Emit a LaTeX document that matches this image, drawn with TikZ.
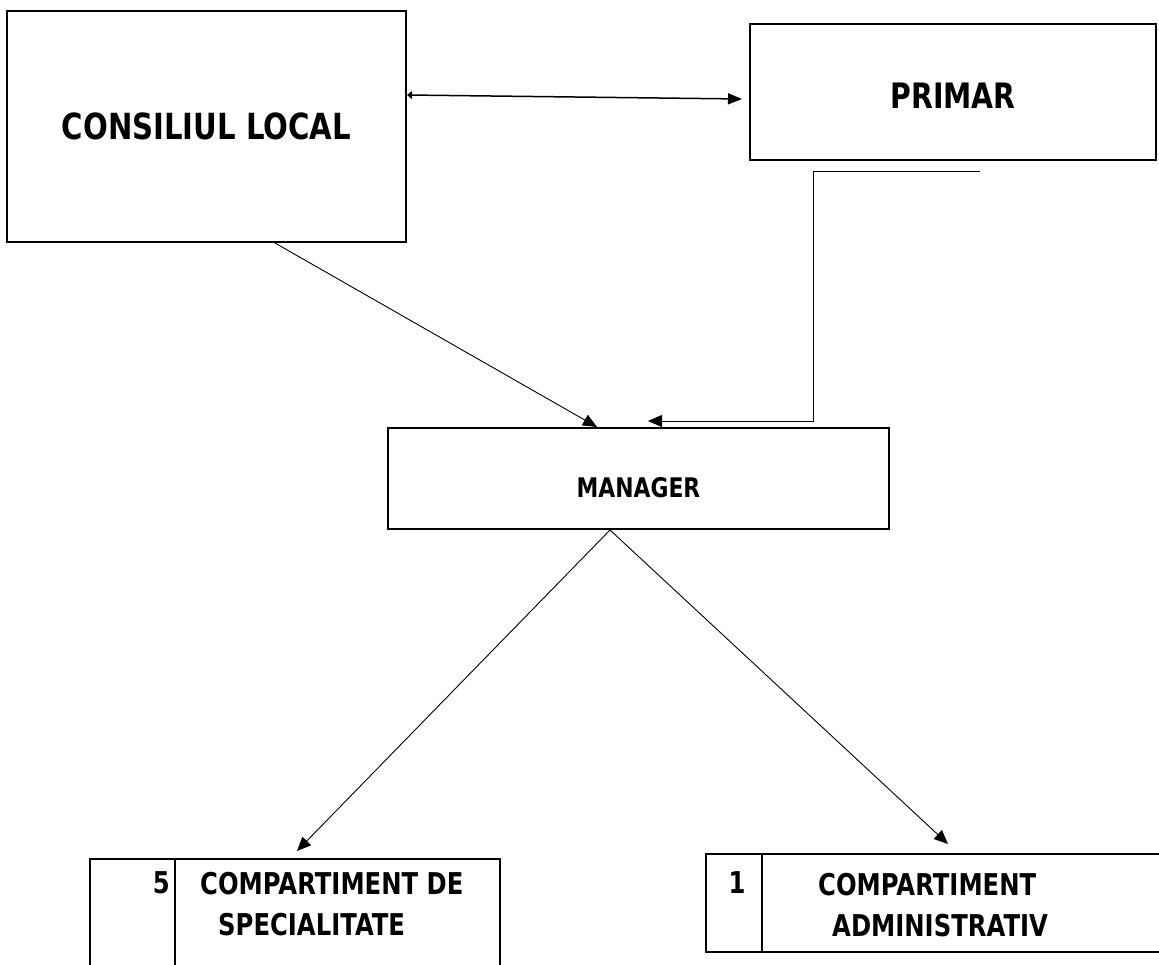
\documentclass[tikz,border=0pt]{standalone}
\usepackage{fontspec}
\setmainfont{DejaVu Sans}[FakeStretch=0.81]
\usetikzlibrary{arrows.meta,calc,positioning}

\tikzset{
  box/.style={draw, line width=2pt, inner sep=0pt},
  bigtext/.style={font=\bfseries\fontsize{36}{40}\selectfont},
  midtext/.style={font=\bfseries\fontsize{27}{30}\selectfont},
  cmptext/.style={font=\bfseries\fontsize{30}{41}\selectfont, inner sep=0pt},
  link/.style={line width=0.9pt, -{Triangle[length=14pt,width=12pt]}},
  divider/.style={line width=1.2pt},
}

\begin{document}
\begin{tikzpicture}[x=1pt,y=-1pt]
  \useasboundingbox (0,0) rectangle (1159,965);
  \clip (0,0) rectangle (1159,965);

  % conducere
  \node[box, bigtext, minimum width=399pt, minimum height=231pt] (consiliu) at (206.5,126.5) {CONSILIUL LOCAL};
  \node[box, bigtext, minimum width=406pt, minimum height=136pt, font=\bfseries\fontsize{35}{40}\selectfont] (primar) at (953,92) {\raisebox{-17pt}[0pt][0pt]{PRIMAR}};
  \node[box, midtext, minimum width=501pt, minimum height=101pt] (manager) at (638.5,478.5) {\raisebox{-19pt}[0pt][0pt]{MANAGER}};

  % compartimente
  \node[box, minimum width=410pt, minimum height=141pt] (specialitate) at (295,929.5) {};
  \node[box, minimum width=464pt, minimum height=98pt] (administrativ) at (938,903) {};
  \draw[divider] ($(specialitate.north west)+(86,0)$) -- ($(specialitate.south west)+(86,0)$);
  \draw[divider] ($(administrativ.north west)+(57,0)$) -- ($(administrativ.south west)+(57,0)$);

  \node[cmptext, anchor=east] (nrspec) at (170,883) {5};
  \node[cmptext, anchor=west, align=left] (numespec) at (200,904.5) {COMPARTIMENT DE\\\hspace*{18pt}SPECIALITATE};
  \node[cmptext] (nradm) at (737,883) {1};
  \node[cmptext, anchor=west, align=left] (numeadm) at (818,905) {COMPARTIMENT\\\hspace*{14pt}ADMINISTRATIV};

  % legaturi
  \draw[line width=1.5pt, {Triangle[length=5pt,width=8pt]}-{Triangle[length=14pt,width=11pt]}]
    ([yshift=31.5pt]consiliu.east) -- ([xshift=-7pt,yshift=-7pt]primar.west);
  \draw[link] ([xshift=68.5pt]consiliu.south) -- ([xshift=-41.5pt]manager.north);

  \coordinate (pstart) at (980,171);
  \coordinate (pdrop) at (813,421);
  \coordinate (ptip) at (648,421);
  \draw[link] (pstart) -| (pdrop) -- (ptip);

  \draw[link] ([xshift=-28.5pt]manager.south) -- ([xshift=2pt,yshift=7pt]specialitate.north);
  \draw[link] ([xshift=-28.5pt]manager.south) -- ([xshift=10pt,yshift=9pt]administrativ.north);
\end{tikzpicture}
\end{document}
